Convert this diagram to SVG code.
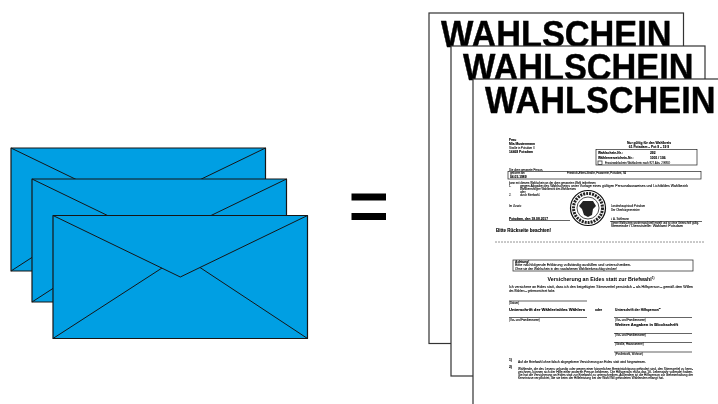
<svg xmlns="http://www.w3.org/2000/svg" width="718" height="404" viewBox="0 0 718 404">
<style>
text{font-family:"Liberation Sans",Arial,sans-serif;fill:#000}
.env{fill:#009fe3;stroke:#161616;stroke-width:1.200;stroke-linejoin:round}
.fold{fill:none;stroke:#161616;stroke-width:1}
.page{fill:#fff;stroke:#333;stroke-width:1.200}
.w{font-size:34.300px;font-weight:700;stroke:#000;stroke-width:.4}
.t{font-size:2.800px;fill:#000;stroke:#000;stroke-width:.08}
.b{font-size:3.300px;font-weight:700;stroke:#000;stroke-width:.1}
.l{stroke:#222;stroke-width:.7;fill:none}
</style>
<defs>
<filter id="soft" x="-5%" y="-5%" width="110%" height="110%"><feGaussianBlur stdDeviation="0.25"/></filter>
<filter id="crisp" x="-5%" y="-10%" width="110%" height="120%"><feGaussianBlur stdDeviation="0.25"/></filter>
<g id="envelope-shape"><rect class="env" x="53" y="215.500" width="254.500" height="123"/><path class="fold" d="M53 215.500L180.300 277L307.500 215.500M53 338.500L162 268M307.500 338.500L200 267.500"/></g>
</defs>
<rect width="718" height="404" fill="#fff"/>
<g id="envelope-1" transform="translate(-42 -67.500)"><use href="#envelope-shape"/></g>
<g id="envelope-2" transform="translate(-21 -36.500)"><use href="#envelope-shape"/></g>
<g id="envelope-3"><use href="#envelope-shape"/></g>
<g id="equals"><rect x="351.500" y="193.500" width="34.500" height="7" fill="#000"/><rect x="351.500" y="213" width="34.500" height="7" fill="#000"/></g>
<g id="page-1"><rect class="page" x="429" y="13" width="254.500" height="330.500"/><text class="w" transform="translate(441 46.600) scale(1 1.050)" filter="url(#crisp)">WAHLSCHEIN</text></g>
<g id="page-2"><rect class="page" x="451" y="46" width="254" height="330"/><text class="w" transform="translate(463 79.600) scale(1 1.050)" filter="url(#crisp)">WAHLSCHEIN</text></g>
<g id="page-3"><rect class="page" x="473" y="79" width="250" height="340"/><text class="w" transform="translate(485 112.600) scale(1 1.050)" filter="url(#crisp)">WAHLSCHEIN</text>
<g filter="url(#soft)">
<text class="b" x="509" y="140.500">Frau</text>
<text class="b" x="509" y="145">Mia Mustermann</text>
<text class="t" x="509" y="149">Straße in Potsdam 3</text>
<text class="b" x="509" y="152.500">14469 Potsdam</text>
<text class="b" x="649" y="143.500" text-anchor="middle">Nur gültig für den Wahlkreis</text>
<text class="b" x="649" y="147.500" text-anchor="middle">61 Potsdam – Pot 9 – 19 9</text>
<rect class="l" x="596" y="149.500" width="101" height="15.500"/>
<text class="b" x="598" y="153.500">Wahlschein-Nr.:</text><text class="b" x="650" y="153.500">292</text>
<text class="b" x="598" y="159">Wählerverzeichnis-Nr.:</text><text class="b" x="650" y="159">1001 / 106</text>
<rect class="l" x="598" y="161" width="4" height="3.500"/><text class="t" x="605" y="164">Ersatzwahlschein Wahlschein nach §27 Abs. 2 BWO</text>
<text class="t" x="509" y="170.500">Die oben genannte Person,</text>
<rect class="l" x="508" y="171.500" width="193" height="7.500"/>
<text class="t" x="510" y="174">geboren am</text><text class="t" x="567" y="174">Friedrich-Ebert-Straße, Fasanerie, Potsdam, 94</text>
<text class="b" x="510" y="178.300">04.03.1989</text>
<text class="t" x="509" y="184">kann mit diesem Wahlschein an der oben genannten Wahl teilnehmen</text>
<text class="t" x="509" y="187">1.</text><text class="t" x="520" y="187" textLength="168" lengthAdjust="spacingAndGlyphs">gegen Abgabe des Wahlscheins unter Vorlage eines gültigen Personalausweises und Lichtbildes Wahlbezirk</text>
<text class="t" x="520" y="189.800" textLength="56" lengthAdjust="spacingAndGlyphs">Wahlberechtigter Wahlbezirk des Wahlkreises</text>
<text class="t" x="520" y="192.800">oder</text>
<text class="t" x="509" y="196">2.</text><text class="t" x="520" y="196">durch Briefwahl.</text>
<text class="t" x="509" y="207">Im Zusatz</text>
<text class="t" x="611" y="207">Landeshauptstadt Potsdam</text>
<text class="t" x="611" y="211">Der Oberbürgermeister</text>
<text class="b" x="509" y="219.500">Potsdam, den 18.08.2017</text>
<path class="l" d="M509 220.500H570"/>
<text class="t" x="611" y="220">i. A. Sahlmann</text>
<path class="l" d="M610 221.500H702"/>
<text class="t" x="611" y="224" textLength="88" lengthAdjust="spacingAndGlyphs">Dieser Wahlschein wurde maschinell erstellt und ist ohne Unterschrift gültig.</text>
<text class="t" x="611" y="226.800" textLength="72" lengthAdjust="spacingAndGlyphs">Gemeinde / Dienststelle: Wahlamt Potsdam</text>
<circle cx="588" cy="208" r="17.500" fill="none" stroke="#111" stroke-width="1.200"/>
<circle cx="588" cy="208" r="14.500" fill="none" stroke="#222" stroke-width="3" stroke-dasharray="2 1"/>
<circle cx="588" cy="208" r="11" fill="none" stroke="#222" stroke-width=".8"/>
<path d="M583 201h10l3 5-3 3-1 6-4 2-4-2-2-6-3-3z" fill="#222"/>
<text class="b" x="496" y="232" style="font-size:4.500px">Bitte Rückseite beachten!</text>
<path d="M495 242H705" stroke="#777" stroke-width=".8" stroke-dasharray="2 1" fill="none"/>
<rect class="l" x="513" y="260" width="180" height="11"/>
<text class="b" x="515" y="263">Achtung!</text>
<text class="t" x="515" y="266" textLength="116" lengthAdjust="spacingAndGlyphs">Bitte nachfolgende Erklärung vollständig ausfüllen und unterschreiben.</text>
<text class="t" x="515" y="270" textLength="102" lengthAdjust="spacingAndGlyphs">Ohne sie den Wahlschein in den rosafarbenen Wahlbriefumschlag stecken!</text>
<text x="601" y="280.500" text-anchor="middle" style="font-size:5.300px;font-weight:700">Versicherung an Eides statt zur Briefwahl<tspan dy="-2" style="font-size:3px">1)</tspan></text>
<text class="t" x="509" y="288" textLength="184" lengthAdjust="spacingAndGlyphs">Ich versichere an Eides statt, dass ich den beigefügten Stimmzettel persönlich – als Hilfsperson – gemäß dem Willen</text>
<text class="t" x="509" y="291.500">des Wählers – gekennzeichnet habe.</text>
<path class="l" d="M509 301H587M509 317.500H587M614 317.500H692M614 333.500H692M614 342.500H692M614 352H692"/>
<text class="t" x="509" y="303.500">(Datum)</text>
<text class="b" x="509" y="310.500" textLength="76" lengthAdjust="spacingAndGlyphs">Unterschrift der Wählerin/des Wählers</text>
<text class="b" x="595" y="310.500">oder</text>
<text class="b" x="615" y="310.500">Unterschrift der Hilfsperson<tspan dy="-1.500" style="font-size:2.500px">2)</tspan></text>
<text class="t" x="509" y="320.500">(Vor- und Familienname)</text>
<text class="t" x="615" y="320.500">(Vor- und Familienname)</text>
<text class="b" x="615" y="326" textLength="63" lengthAdjust="spacingAndGlyphs">Weitere Angaben in Blockschrift</text>
<text class="t" x="615" y="336">(Vor- und Familienname)</text>
<text class="t" x="615" y="345">(Straße, Hausnummer)</text>
<text class="t" x="615" y="355">(Postleitzahl, Wohnort)</text>
<text class="b" x="509" y="361">1)</text>
<text class="t" x="518" y="363.300" textLength="128" lengthAdjust="spacingAndGlyphs">Auf die Briefwahl ohne falsch abgegebene Versicherung an Eides statt wird hingewiesen.</text>
<text class="b" x="509" y="368">2)</text>
<text class="t" x="518" y="369.500" textLength="175" lengthAdjust="spacingAndGlyphs">Wählende, die des Lesens unkundig oder wegen einer körperlichen Beeinträchtigung gehindert sind, den Stimmzettel zu kenn-</text>
<text class="t" x="518" y="372.700" textLength="175" lengthAdjust="spacingAndGlyphs">zeichnen, können sich der Hilfe einer anderen Person bedienen. Die Hilfsperson muss das 16. Lebensjahr vollendet haben.</text>
<text class="t" x="518" y="375.900" textLength="175" lengthAdjust="spacingAndGlyphs">Sie hat die Versicherung an Eides statt zur Briefwahl zu unterschreiben. Außerdem ist die Hilfsperson zur Geheimhaltung der</text>
<text class="t" x="518" y="379.100" textLength="146" lengthAdjust="spacingAndGlyphs">Kenntnisse verpflichtet, die sie beim der Hilfeleistung bei der Wahl Wil gehindeten Wählenden erlangt hat.</text>
</g></g>
</svg>
